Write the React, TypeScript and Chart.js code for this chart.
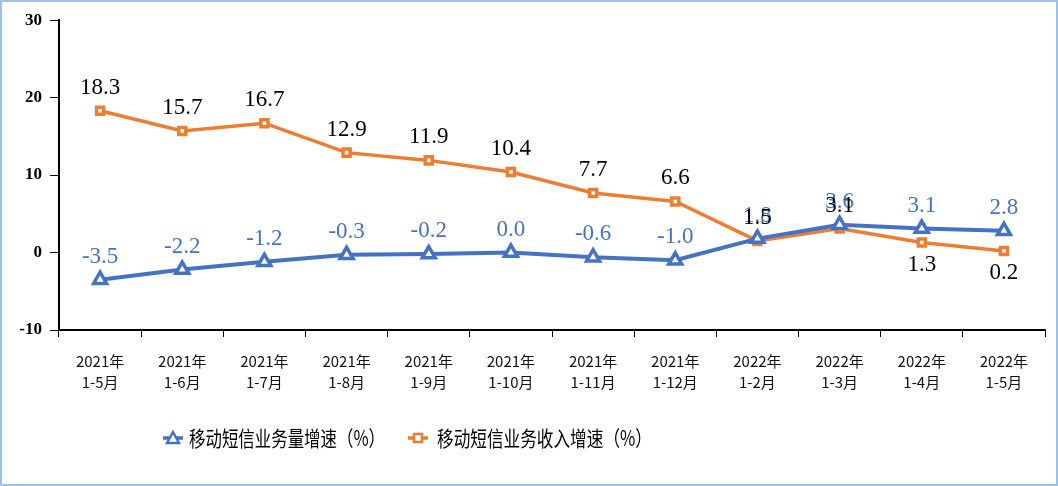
import React, { useEffect, useRef } from "react";
import { Chart, registerables } from "chart.js";

Chart.register(...registerables);

const yearLabels = ["2021年", "2021年", "2021年", "2021年", "2021年", "2021年", "2021年", "2021年", "2022年", "2022年", "2022年", "2022年"];
const monthLabels = ["1-5月", "1-6月", "1-7月", "1-8月", "1-9月", "1-10月", "1-11月", "1-12月", "1-2月", "1-3月", "1-4月", "1-5月"];
const volumeGrowth = [-3.5, -2.2, -1.2, -0.3, -0.2, 0.0, -0.6, -1.0, 1.8, 3.6, 3.1, 2.8];
const revenueGrowth = [18.3, 15.7, 16.7, 12.9, 11.9, 10.4, 7.7, 6.6, 1.5, 3.1, 1.3, 0.2];
const revenueLabelBelow = [false, false, false, false, false, false, false, false, false, false, true, true];
const seriesNames = ["移动短信业务量增速（%）", "移动短信业务收入增速（%）"];

const BLUE = "#4472C4";
const ORANGE = "#ED7D31";

const labelPlugin = {
  id: "valueLabels",
  afterDatasetsDraw(chart: any) {
    const ctx = chart.ctx;
    ctx.save();
    ctx.font = '23px "Liberation Serif", "DejaVu Serif", serif';
    ctx.textAlign = "center";
    ctx.textBaseline = "middle";
    chart.data.datasets.forEach((ds: any, di: number) => {
      const meta = chart.getDatasetMeta(di);
      meta.data.forEach((pt: any, i: number) => {
        const v = ds.data[i];
        const txt = v.toFixed(1);
        let y = pt.y - 23;
        if (di === 1 && revenueLabelBelow[i]) y = pt.y + 22;
        ctx.fillStyle = di === 0 ? BLUE : "#000000";
        ctx.fillText(txt, pt.x, y);
      });
    });
    ctx.restore();
  },
};

const legendPlugin = {
  id: "customLegend",
  afterDraw(chart: any) {
    const ctx = chart.ctx;
    ctx.save();
    ctx.font = '21px "Noto Sans CJK SC", sans-serif';
    ctx.textBaseline = "middle";
    const y = 436;
    const markerW = 20;
    const colors = [BLUE, ORANGE];
    const starts = [161, 406];
    const textStarts = [187, 435];
    const textWidths = [196, 215];
    seriesNames.forEach((n, i) => {
      const c = colors[i];
      const x = starts[i];
      ctx.strokeStyle = c;
      ctx.lineWidth = 3.5;
      ctx.beginPath();
      ctx.moveTo(x, y);
      ctx.lineTo(x + markerW, y);
      ctx.stroke();
      const cx = x + markerW / 2;
      ctx.fillStyle = "#fff";
      ctx.lineWidth = 2.5;
      ctx.beginPath();
      if (i === 0) {
        ctx.moveTo(cx, y - 6);
        ctx.lineTo(cx + 6, y + 5);
        ctx.lineTo(cx - 6, y + 5);
        ctx.closePath();
      } else {
        ctx.rect(cx - 4, y - 4, 8, 8);
      }
      ctx.fill();
      ctx.stroke();
      const w = ctx.measureText(n).width;
      const sx = textWidths[i] / w;
      ctx.save();
      ctx.translate(textStarts[i], y);
      ctx.scale(sx, 1);
      ctx.fillStyle = "#000";
      ctx.fillText(n, 0, 0);
      ctx.restore();
    });
    ctx.restore();
  },
};

export default function App() {
  const ref = useRef<HTMLCanvasElement | null>(null);
  useEffect(() => {
    if (!ref.current) return;
    const labels = yearLabels.map((y, i) => [y, monthLabels[i]]);
    const chart = new Chart(ref.current, {
      type: "line",
      data: {
        labels,
        datasets: [
          {
            label: seriesNames[0],
            data: volumeGrowth,
            borderColor: BLUE,
            backgroundColor: "#ffffff",
            borderWidth: 4,
            pointStyle: "triangle",
            pointRadius: 7.5,
            pointBorderWidth: 3.5,
            pointBorderColor: BLUE,
            pointBackgroundColor: "#ffffff",
            tension: 0,
          },
          {
            label: seriesNames[1],
            data: revenueGrowth,
            borderColor: ORANGE,
            backgroundColor: "#ffffff",
            borderWidth: 3.5,
            pointStyle: "rect",
            pointRadius: 5,
            pointBorderWidth: 3.5,
            pointBorderColor: ORANGE,
            pointBackgroundColor: "#ffffff",
            tension: 0,
          },
        ],
      },
      options: {
        animation: false,
        responsive: false,
        layout: { padding: { top: 17, right: 8, left: 0, bottom: 0 } },
        plugins: { legend: { display: false }, tooltip: { enabled: false } },
        scales: {
          x: {
            offset: true,
            grid: {
              offset: true,
              drawOnChartArea: false,
              drawTicks: true,
              tickLength: 7,
              tickColor: "#000",
              tickWidth: 1,
            },
            border: { color: "#000", width: 2 },
            ticks: {
              color: "#111",
              font: { family: '"Noto Sans CJK SC", sans-serif', size: 15, lineHeight: 1.4 },
              padding: 14,
              maxRotation: 0,
              autoSkip: false,
            },
            afterFit(scale: any) {
              scale.height = 154;
            },
          },
          y: {
            min: -10,
            max: 30,
            ticks: {
              stepSize: 10,
              color: "#000",
              font: { family: '"Liberation Serif", serif', size: 17, weight: "bold" },
              padding: 8,
            },
            grid: {
              drawOnChartArea: false,
              drawTicks: true,
              tickLength: 9,
              tickColor: "#000",
            },
            border: { color: "#000", width: 2 },
            afterFit(scale: any) {
              scale.width = 57;
            },
          },
        },
      },
      plugins: [labelPlugin, legendPlugin],
    });
    return () => chart.destroy();
  }, []);
  return (
    <div
      style={{
        position: "fixed",
        left: 0,
        top: 0,
        width: 1058,
        height: 486,
        boxSizing: "border-box",
        border: "2px solid #9DC3E6",
        background: "#fff",
        overflow: "hidden",
      }}
    >
      <canvas ref={ref} width={1054} height={482} style={{ display: "block", width: 1054, height: 482 }} />
    </div>
  );
}
